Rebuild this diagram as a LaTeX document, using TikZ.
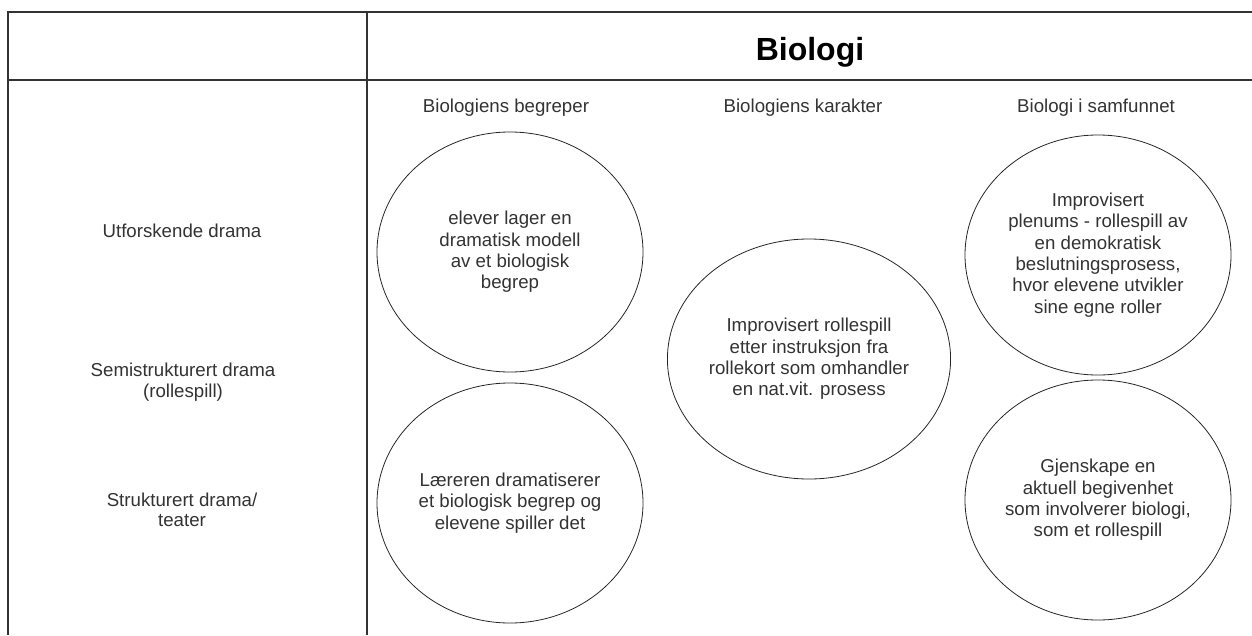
\documentclass[tikz,border=0pt]{standalone}
\usepackage{fontspec}
\setmainfont{Liberation Sans}
\usetikzlibrary{shapes.geometric}

\begin{document}
\begin{tikzpicture}[x=0.75pt,y=-0.75pt,grid/.style={draw=black!80,line width=0.9pt},bubble/.style={ellipse,draw=black!85,line width=0.6pt,align=center,minimum width=199.5pt,minimum height=180pt,inner sep=0pt,font=\fontsize{14}{16}\selectfont,text=black!80},label/.style={align=center,font=\fontsize{14}{15.4}\selectfont,text=black!80},title/.style={font=\fontsize{24}{28}\selectfont\bfseries}]
\useasboundingbox[fill=white] (0,0) rectangle (1252,635);
\draw[grid] (8,635) -- (8,12) -- (1252,12);
\draw[grid] (8,80) -- (1252,80);
\draw[grid] (367,12) -- (367,635);
\node[title] (t0) at (810,52) {Biologi};
\node[label] (c0) at (506,108) {Biologiens begreper};
\node[label] (c1) at (803,108) {Biologiens karakter};
\node[label] (c2) at (1096,108) {Biologi i samfunnet};
\node[label] (r0) at (182,231) {Utforskende drama};
\node[label] (r1) at (183,382) {Semistrukturert drama\\(rollespill)};
\node[label] (r2) at (182,510) {Strukturert drama/\\teater};
\node[bubble] (b0) at (510,252) {elever lager en\\dramatisk modell\\av et biologisk\\begrep};
\node[bubble] (b1) at (510,503) {Læreren dramatiserer\\et biologisk begrep og\\elevene spiller det};
\node[bubble] (b2) at (809,359) {Improvisert rollespill\\etter instruksjon fra\\rollekort som omhandler\\en nat.vit. prosess};
\node[bubble] (b3) at (1098,255) {Improvisert\\plenums - rollespill av\\en demokratisk\\beslutningsprosess,\\hvor elevene utvikler\\sine egne roller};
\node[bubble] (b4) at (1098,500) {Gjenskape en\\aktuell begivenhet\\som involverer biologi,\\som et rollespill};
\end{tikzpicture}
\end{document}
